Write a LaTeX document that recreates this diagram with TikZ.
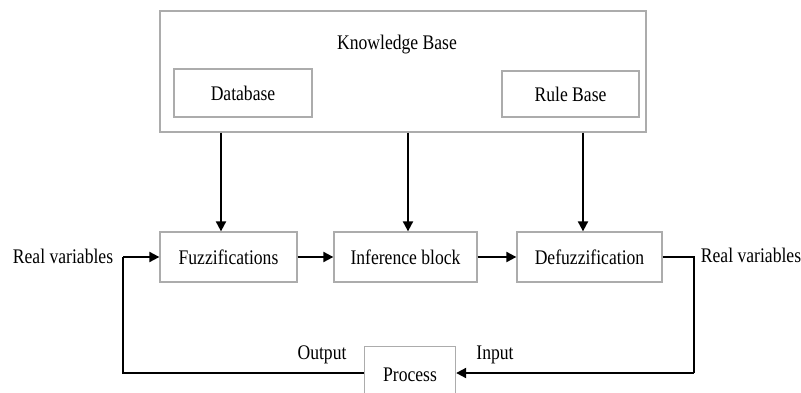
\documentclass[tikz,border=0pt]{standalone}
\usepackage{fontspec}
\setmainfont{Liberation Serif}
\usepackage{graphicx}
\usetikzlibrary{arrows.meta}
\newcommand\tx[1]{\scalebox{1}[1.18]{#1}}
\begin{document}
\begin{tikzpicture}[x=1pt,y=-1pt,
  box/.style={draw=gray!65,line width=1.3pt,fill=white,inner sep=0pt},
  lbl/.style={inner sep=0pt,font=\fontsize{17.6}{18}\selectfont},
  conn/.style={line width=2pt,-{Triangle[length=10pt,width=10pt]}},
  plain/.style={line width=2pt}]
\useasboundingbox (0,0) rectangle (801,392);
\fill[white] (0,0) rectangle (801,392);
% knowledge base
\node[box,minimum width=486pt,minimum height=121pt] (kb) at (403,71.5) {};
\node[lbl] (kbt) at (397,45) {\tx{Knowledge Base}};
\node[box,minimum width=138pt,minimum height=48pt,lbl] (db) at (243,93) {\tx{Database}};
\node[box,minimum width=137pt,minimum height=46pt,lbl] (rb) at (570.5,94) {\tx{Rule Base}};
% main chain
\node[box,minimum width=137pt,minimum height=50pt,lbl] (fz) at (228.5,257) {\tx{Fuzzifications}};
\node[box,minimum width=143pt,minimum height=50pt,lbl] (ib) at (405.5,257) {\tx{Inference block}};
\node[box,minimum width=145pt,minimum height=50pt,lbl] (df) at (589.5,257) {\tx{Defuzzification}};
\node[box,minimum width=91pt,minimum height=52pt,lbl,anchor=north] (pr) at (410,346) {};
\node[lbl] (prt) at (410,375) {\tx{Process}};
% labels
\node[lbl] (rvl) at (63,256) {\tx{Real variables}};
\node[lbl] (rvr) at (751,255) {\tx{Real variables}};
\node[lbl] (out) at (322,355) {\tx{Output}};
\node[lbl] (inp) at (495,355) {\tx{Input}};
% coordinates
\coordinate (lc) at (123,257);
\coordinate (lb) at (123,373);
\coordinate (rc) at (694,257);
\coordinate (rbc) at (694,373);
% vertical arrows
\draw[conn] (kb.south -| 221,0) -- (fz.north -| 221,0);
\draw[conn] (kb.south -| 408,0) -- (ib.north -| 408,0);
\draw[conn] (kb.south -| 583,0) -- (df.north -| 583,0);
% horizontal arrows
\draw[conn] (fz.east) -- (ib.west);
\draw[conn] (ib.east) -- (df.west);
% feedback loop
\draw[plain] (df.east) -- (rc) -- (rbc);
\draw[conn] (rbc) -- (pr.east |- rbc);
\draw[plain] (pr.west |- lb) -- (lb) -- (lc);
\draw[conn] (lc) -- (fz.west);
\end{tikzpicture}
\end{document}
